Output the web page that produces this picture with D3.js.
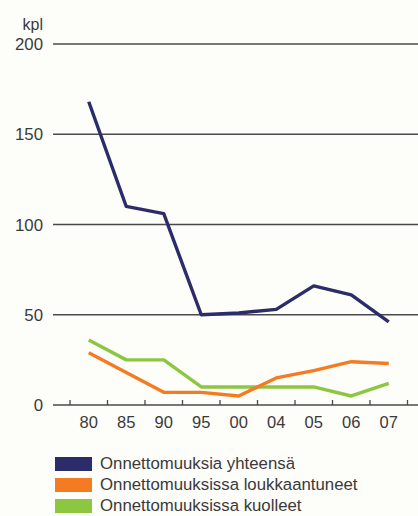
<!DOCTYPE html>
<html><head><meta charset="utf-8">
<script src="https://cdn.jsdelivr.net/npm/d3@7"></script>
<style>
html,body{margin:0;padding:0;background:#fdfdf9;}
svg{display:block;}
text{font-family:"Liberation Sans",Arial,sans-serif;fill:#3a3a3a;}
</style></head><body>
<svg id="c" width="418" height="516"></svg>
<script>
const categories = ["80","85","90","95","00","04","05","06","07"];
const totalAccidents = [168,110,106,50,51,53,66,61,46];
const injured = [29,18,7,7,5,15,19,24,23];
const killed = [36,25,25,10,10,10,10,5,12];
const yTicks = [0,50,100,150,200];
const seriesNames = ["Onnettomuuksia yhteensä","Onnettomuuksissa loukkaantuneet","Onnettomuuksissa kuolleet"];
const colors = ["#2d2c6a","#f57b22","#8dc641"];

const svg = d3.select("#c");
const x = d3.scaleBand().domain(categories).range([70,407.5]);
const y = d3.scaleLinear().domain([0,200]).range([405,44]);

// gridlines
svg.append("g").selectAll("line").data(yTicks).join("line")
  .attr("x1",53).attr("x2",418)
  .attr("y1",d=>y(d)).attr("y2",d=>y(d))
  .attr("stroke","#4a4a4a").attr("stroke-width",1.3);

// y labels
svg.append("g").selectAll("text").data(yTicks).join("text")
  .attr("x",43).attr("y",d=>y(d)+6)
  .attr("text-anchor","end").attr("font-size",16.8).text(d=>d);
svg.append("text").attr("x",43).attr("y",30).attr("text-anchor","end")
  .attr("font-size",16).text("kpl");

// x ticks (band edges)
const edges = categories.map(c=>x(c)).concat([x.range()[1]]);
svg.append("g").selectAll("line").data(edges).join("line")
  .attr("x1",d=>d).attr("x2",d=>d).attr("y1",y(0)-5).attr("y2",y(0))
  .attr("stroke","#4a4a4a").attr("stroke-width",1.3);
svg.append("g").selectAll("text").data(categories).join("text")
  .attr("x",d=>x(d)+x.bandwidth()/2).attr("y",y(0)+23)
  .attr("text-anchor","middle").attr("font-size",16.5).text(d=>d);

const line = d3.line().x((d,i)=>x(categories[i])+x.bandwidth()/2).y(d=>y(d));
[killed,injured,totalAccidents].forEach((s,k)=>{
  const idx = [2,1,0][k];
  svg.append("path").datum(s).attr("d",line).attr("fill","none")
    .attr("stroke",colors[idx]).attr("stroke-width",3.4)
    .attr("stroke-linejoin","round");
});

// legend
const lg = svg.append("g");
seriesNames.forEach((n,i)=>{
  lg.append("rect").attr("x",55).attr("y",457+i*21).attr("width",37).attr("height",14).attr("fill",colors[i]);
  lg.append("text").attr("x",100).attr("y",469+i*21).attr("font-size",16.8).text(n);
});
</script></body></html>
